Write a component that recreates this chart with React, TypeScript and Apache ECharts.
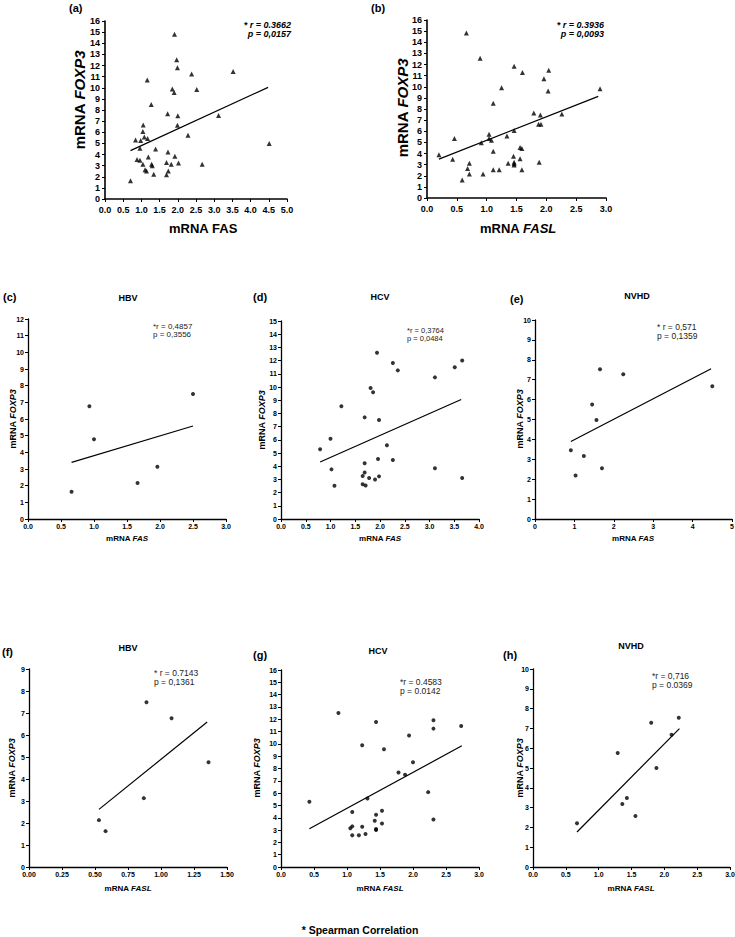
import React, { useEffect, useRef } from "react";
import * as echarts from "echarts";

const FONT = '"Liberation Sans", Arial, Helvetica, sans-serif';

// (a) all patients: FAS vs FOXP3
const aFas = [0.70, 0.84, 0.88, 0.96, 0.98, 1.05, 1.04, 1.08, 1.17, 1.16, 0.96, 1.04, 1.10, 1.14, 1.19, 1.27, 1.28, 1.30, 1.34, 1.39, 1.69, 1.69, 1.73, 1.74, 1.72, 1.82, 1.85, 1.90, 1.91, 1.92, 1.97, 1.99, 2.00, 1.99, 2.02, 2.28, 2.38, 2.52, 2.67, 3.12, 3.52, 4.51];
const aFoxp3 = [1.65, 5.31, 3.54, 4.56, 5.25, 6.66, 6.06, 5.58, 5.43, 10.69, 3.48, 3.12, 2.64, 2.52, 3.78, 8.50, 3.12, 3.00, 2.22, 4.50, 3.27, 2.19, 4.23, 2.52, 7.66, 3.12, 9.88, 9.58, 14.8, 3.84, 12.52, 11.8, 7.48, 6.64, 3.24, 5.74, 11.23, 9.85, 3.12, 7.51, 11.47, 4.98];
const aFit = [[0.70, 4.35], [4.48, 10.03]];

// (b) all patients: FASL vs FOXP3
const bFasl = [0.20, 0.43, 0.46, 0.59, 0.66, 0.68, 0.71, 0.71, 0.89, 0.91, 0.94, 1.04, 1.04, 1.08, 1.11, 1.11, 1.11, 1.21, 1.25, 1.34, 1.36, 1.45, 1.46, 1.46, 1.46, 1.46, 1.46, 1.56, 1.56, 1.59, 1.59, 1.60, 1.79, 1.90, 1.87, 1.91, 1.88, 1.96, 2.03, 2.04, 2.26, 2.90];
const bFoxp3 = [3.88, 3.49, 5.34, 1.61, 14.84, 2.66, 3.13, 2.15, 12.57, 4.96, 2.15, 5.73, 5.34, 5.19, 8.51, 4.21, 2.54, 2.54, 9.91, 5.58, 3.13, 3.76, 6.06, 11.85, 3.22, 3.07, 2.96, 3.52, 4.54, 4.45, 2.54, 11.28, 7.64, 7.46, 6.63, 6.63, 3.22, 10.72, 9.61, 11.49, 7.55, 9.82];
const bFit = [[0.20, 3.49], [2.87, 9.13]];

// (c) HBV: FAS
const cFas = [0.66, 0.93, 1.00, 1.66, 1.96, 2.50];
const cFoxp3 = [1.64, 6.76, 4.78, 2.16, 3.14, 7.50];
const cFit = [[0.66, 3.40], [2.50, 5.58]];

// (d) HCV: FAS
const dFas = [0.79, 1.00, 1.02, 1.08, 1.22, 1.69, 1.69, 1.69, 1.65, 1.65, 1.71, 1.78, 1.90, 1.98, 1.81, 1.86, 1.94, 1.98, 1.96, 2.14, 2.26, 2.26, 2.36, 3.11, 3.11, 3.51, 3.66, 3.66];
const dFoxp3 = [5.29, 6.08, 3.76, 2.52, 8.54, 7.70, 4.22, 3.53, 3.25, 2.64, 2.54, 3.10, 3.00, 3.23, 9.92, 9.61, 12.59, 7.50, 4.55, 5.59, 11.82, 4.47, 11.26, 10.73, 3.84, 11.49, 12.00, 3.10];
const dFit = [[0.79, 4.32], [3.64, 9.05]];

// (e) NVHD: FAS
const eFas = [0.91, 1.03, 1.24, 1.45, 1.56, 1.65, 1.70, 2.24, 4.50];
const eFoxp3 = [3.45, 2.19, 3.17, 5.75, 4.97, 7.52, 2.55, 7.27, 6.67];
const eFit = [[0.91, 3.89], [4.47, 7.55]];

// (f) HBV: FASL
const fFasl = [0.53, 0.58, 0.87, 0.89, 1.08, 1.36];
const fFoxp3 = [2.13, 1.63, 3.13, 7.49, 6.76, 4.76];
const fFit = [[0.53, 2.62], [1.35, 6.59]];

// (g) HCV: FASL
const gFasl = [0.43, 0.87, 1.08, 1.05, 1.08, 1.08, 1.18, 1.23, 1.23, 1.28, 1.31, 1.42, 1.44, 1.44, 1.44, 1.44, 1.53, 1.53, 1.56, 1.78, 1.88, 1.94, 2.00, 2.23, 2.31, 2.31, 2.31, 2.73];
const gFoxp3 = [5.30, 12.51, 4.46, 3.14, 3.30, 2.57, 2.57, 9.89, 3.27, 2.68, 5.57, 3.76, 11.78, 4.24, 3.08, 3.00, 4.57, 3.54, 9.57, 7.68, 7.49, 10.68, 8.51, 6.08, 11.92, 11.24, 3.86, 11.46];
const gFit = [[0.43, 3.11], [2.74, 9.84]];

// (h) NVHD: FASL
const hFasl = [0.67, 1.29, 1.36, 1.43, 1.56, 1.80, 1.88, 2.11, 2.22];
const hFoxp3 = [2.21, 5.76, 3.18, 3.48, 2.58, 7.29, 5.00, 6.68, 7.54];
const hFit = [[0.67, 1.77], [2.23, 6.99]];

// axis ranges
const xMaxes = { a: 5, b: 3, c: 3, d: 4, e: 5, f: 1.5, g: 3, h: 3 };
const xSteps = { a: 0.5, b: 0.5, c: 0.5, d: 0.5, e: 1, f: 0.25, g: 0.5, h: 0.5 };
const xDecimals = { a: 1, b: 1, c: 1, d: 1, e: 0, f: 2, g: 1, h: 1 };
const yMaxes = { a: 16, b: 16, c: 12, d: 15, e: 10, f: 9, g: 16, h: 10 };

// texts
const panelLetters = ["(a)", "(b)", "(c)", "(d)", "(e)", "(f)", "(g)", "(h)"];
const groupTitles = { c: "HBV", d: "HCV", e: "NVHD", f: "HBV", g: "HCV", h: "NVHD" };
const rTexts = { a: "* r = 0.3662", b: "* r = 0.3936", c: "*r = 0,4857", d: "*r = 0,3764", e: "* r = 0,571", f: "* r = 0.7143", g: "*r = 0.4583", h: "*r = 0,716" };
const pTexts = { a: "p = 0,0157", b: "p = 0,0093", c: "p = 0,3556", d: "p = 0,0484", e: "p = 0,1359", f: "p = 0,1361", g: "p = 0.0142", h: "p = 0.0369" };
const footnote = "* Spearman Correlation";

const panelData = {
  a: { xs: aFas, ys: aFoxp3, fit: aFit },
  b: { xs: bFasl, ys: bFoxp3, fit: bFit },
  c: { xs: cFas, ys: cFoxp3, fit: cFit },
  d: { xs: dFas, ys: dFoxp3, fit: dFit },
  e: { xs: eFas, ys: eFoxp3, fit: eFit },
  f: { xs: fFasl, ys: fFoxp3, fit: fFit },
  g: { xs: gFasl, ys: gFoxp3, fit: gFit },
  h: { xs: hFasl, ys: hFoxp3, fit: hFit },
};

const ids = ["a", "b", "c", "d", "e", "f", "g", "h"];

// layout (pixels)
const gridRects = {
  a: { left: 105, top: 21, width: 182, height: 178 },
  b: { left: 427, top: 20, width: 179, height: 178 },
  c: { left: 28, top: 319, width: 198, height: 200 },
  d: { left: 281, top: 321, width: 198, height: 198 },
  e: { left: 535, top: 320, width: 197, height: 199 },
  f: { left: 29, top: 669, width: 198, height: 198 },
  g: { left: 281, top: 670, width: 198, height: 197 },
  h: { left: 533, top: 669, width: 197, height: 198 },
};

function txt(x: number, y: number, text: string, o: any = {}) {
  return {
    type: "text",
    x,
    y,
    silent: true,
    style: {
      text,
      fill: o.fill || "#000",
      fontFamily: FONT,
      fontSize: o.size || 9,
      fontWeight: o.weight || "normal",
      fontStyle: o.style || "normal",
      align: o.align || "left",
      verticalAlign: "middle",
    },
  };
}

function richName(x: number, y: number, plain: string, ital: string, size: number, rotate: boolean, allPlain = false) {
  const base = { fontFamily: FONT, fontSize: size, fontWeight: "bold", fill: "#000", color: "#000" };
  return {
    type: "text",
    x,
    y,
    rotation: rotate ? Math.PI / 2 : 0,
    silent: true,
    style: {
      text: `{n|${plain}}{i|${ital}}`,
      rich: {
        n: { ...base },
        i: { ...base, fontStyle: allPlain ? "normal" : "italic" },
      },
      fontFamily: FONT,
      fontSize: size,
      fontWeight: "bold",
      align: "center",
      verticalAlign: "middle",
    },
  };
}

export default function App() {
  const ref = useRef<HTMLDivElement>(null);

  useEffect(() => {
    if (!ref.current) return;
    const chart = echarts.init(ref.current, null, { renderer: "svg" });

    const grids = ids.map((id) => ({ ...gridRects[id], containLabel: false, outerBoundsMode: "none", show: false }));

    const xAxes = ids.map((id, i) => {
      const big = id === "a" || id === "b";
      return {
        type: "value",
        gridIndex: i,
        min: 0,
        max: xMaxes[id],
        interval: xSteps[id],
        axisLine: { show: true, onZero: false, lineStyle: { color: "#000", width: big ? 1.6 : 1.3 } },
        axisTick: { show: true, length: 3, lineStyle: { color: "#000", width: 1 } },
        axisLabel: {
          show: true,
          color: "#000",
          fontFamily: FONT,
          fontWeight: "bold",
          fontSize: big ? 9 : 7,
          margin: big ? 6 : 4,
          formatter: (v: number) => v.toFixed(xDecimals[id]),
        },
        splitLine: { show: false },
      };
    });

    const yAxes = ids.map((id, i) => {
      const big = id === "a" || id === "b";
      return {
        type: "value",
        gridIndex: i,
        min: 0,
        max: yMaxes[id],
        interval: 1,
        axisLine: { show: true, onZero: false, lineStyle: { color: "#000", width: big ? 1.6 : 1.3 } },
        axisTick: { show: true, length: 3, lineStyle: { color: "#000", width: 1 } },
        axisLabel: {
          show: true,
          color: "#000",
          fontFamily: FONT,
          fontWeight: "bold",
          fontSize: big ? 9 : 7,
          margin: big ? 5 : 4,
          formatter: (v: number) => String(Math.round(v)),
        },
        splitLine: { show: false },
      };
    });

    const series: any[] = [];
    ids.forEach((id, i) => {
      const big = id === "a" || id === "b";
      const d = panelData[id];
      series.push({
        type: "scatter",
        xAxisIndex: i,
        yAxisIndex: i,
        data: d.xs.map((x: number, k: number) => [x, d.ys[k]]),
        symbol: big ? "triangle" : "circle",
        symbolSize: big ? 5 : 4,
        itemStyle: { color: "#000" },
        silent: true,
      });
      series.push({
        type: "line",
        xAxisIndex: i,
        yAxisIndex: i,
        data: d.fit,
        symbol: "none",
        lineStyle: { color: "#000", width: 1.2 },
        silent: true,
      });
    });

    const graphic: any[] = [];
    // panel letters
    const letterPos = [
      [69, 8], [371, 8], [3, 297], [253, 297], [510, 299], [2, 652], [253, 655], [503, 655],
    ];
    panelLetters.forEach((l, i) => {
      graphic.push(txt(letterPos[i][0], letterPos[i][1], l, { size: 11, weight: "bold" }));
    });

    // group titles
    const titlePos = { c: [128, 298], d: [380, 297], e: [637, 296], f: [128, 648], g: [378, 651], h: [631, 646] };
    Object.keys(groupTitles).forEach((k) => {
      graphic.push(txt(titlePos[k][0], titlePos[k][1], groupTitles[k], { size: 9, weight: "bold", align: "center" }));
    });

    // correlation annotations
    graphic.push(txt(291, 25, rTexts.a, { size: 9, weight: "bold", style: "italic", align: "right" }));
    graphic.push(txt(291, 33.5, pTexts.a, { size: 9, weight: "bold", style: "italic", align: "right" }));
    graphic.push(txt(604, 25, rTexts.b, { size: 9, weight: "bold", style: "italic", align: "right" }));
    graphic.push(txt(604, 33.5, pTexts.b, { size: 9, weight: "bold", style: "italic", align: "right" }));
    const annPos = {
      c: [153, 326, 8, 8],
      d: [407, 330, 7.5, 8.5],
      e: [657, 327, 8.5, 9],
      f: [154, 673, 8.5, 9],
      g: [400, 682, 8.5, 9],
      h: [652, 676, 8.5, 9],
    };
    Object.keys(annPos).forEach((k) => {
      const [x, y, s, dy] = annPos[k];
      graphic.push(txt(x, y, rTexts[k], { size: s, fill: "#222" }));
      graphic.push(txt(x, y + dy, pTexts[k], { size: s, fill: "#222" }));
    });

    // axis names
    graphic.push(richName(79, 100, "mRNA ", "FOXP3", 15, true));
    graphic.push(richName(203, 228, "mRNA ", "FAS", 13, false, true));
    graphic.push(richName(402, 108, "mRNA ", "FOXP3", 15, true));
    graphic.push(richName(518, 228, "mRNA ", "FASL", 13, false));

    const smallY = [
      [13, 419], [262, 420], [520, 419], [12, 768], [257, 768], [520, 768],
    ];
    smallY.forEach(([x, y]) => graphic.push(richName(x, y, "mRNA ", "FOXP3", 9, true)));
    [[127, 538], [380, 538], [633, 538]].forEach(([x, y]) => graphic.push(richName(x, y, "mRNA ", "FAS", 8, false)));
    [[128, 888], [380, 888], [631, 888]].forEach(([x, y]) => graphic.push(richName(x, y, "mRNA ", "FASL", 8, false)));

    graphic.push(txt(360, 930, footnote, { size: 10.5, weight: "bold", align: "center" }));

    chart.setOption({
      animation: false,
      backgroundColor: "#fff",
      grid: grids,
      xAxis: xAxes,
      yAxis: yAxes,
      series,
      graphic,
    });

    return () => chart.dispose();
  }, []);

  return (
    <div
      ref={ref}
      style={{ position: "absolute", left: 0, top: 0, width: 735, height: 937, background: "#fff" }}
    />
  );
}
